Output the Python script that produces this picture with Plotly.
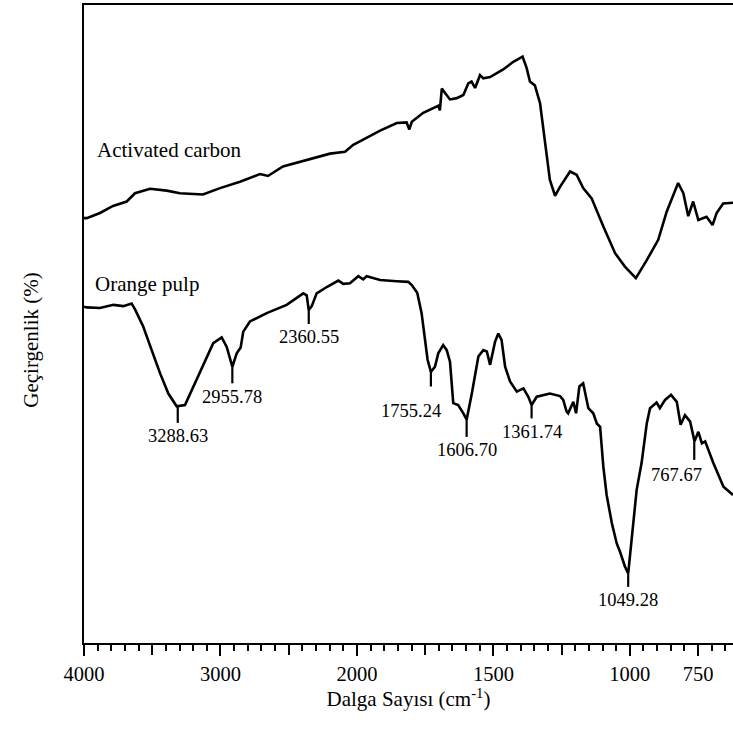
import numpy as np
import plotly.graph_objects as go

# ---- data (wavenumber cm-1, transmittance arbitrary %) ----
ac_w = [4000, 3980, 3883, 3787, 3687, 3626, 3516, 3394, 3297, 3128, 3003, 2857, 2710, 2652, 2542, 2368, 2197, 2087, 2027, 1977,
        1915, 1854, 1818, 1808, 1799, 1757, 1720, 1702, 1696, 1689, 1677, 1659, 1634, 1610, 1592, 1580, 1567, 1549, 1537, 1512,
        1464, 1427, 1393, 1378, 1366, 1348, 1329, 1311, 1293, 1274, 1256, 1219, 1195, 1171, 1140, 1097, 1054, 1018, 978, 938,
        896, 865, 823, 804, 786, 768, 749, 719, 697, 682, 658, 622]
ac_t = [66.6, 66.6, 67.4, 68.5, 69.2, 70.5, 71.2, 70.9, 70.5, 70.3, 71.3, 72.3, 73.5, 73.2, 74.7, 75.7, 76.7, 77.0, 78.1, 78.9,
        80.3, 81.5, 81.6, 80.5, 81.7, 83.1, 83.8, 84.2, 83.5, 86.9, 86.2, 85.2, 85.4, 85.9, 87.7, 88.0, 87.0, 89.0, 88.5, 88.7,
        89.9, 91.1, 91.9, 90.1, 88.0, 87.4, 84.6, 78.8, 72.6, 70.1, 71.5, 73.9, 73.4, 71.3, 69.7, 65.3, 61.1, 59.0, 57.2, 60.0,
        63.2, 67.6, 72.1, 70.5, 66.9, 69.2, 66.3, 66.8, 65.5, 67.4, 68.9, 69.0]

op_w = [4000, 3980, 3883, 3785, 3712, 3651, 3626, 3566, 3504, 3443, 3382, 3321, 3260, 3199, 3126, 3053, 2991, 2954, 2913, 2881,
        2852, 2833, 2784, 2661, 2515, 2393, 2368, 2353, 2331, 2295, 2221, 2136, 2100, 2051, 1995, 1977, 1964, 1915, 1854, 1812,
        1799, 1779, 1763, 1751, 1741, 1729, 1714, 1702, 1684, 1671, 1659, 1647, 1629, 1610, 1598, 1579, 1555, 1537, 1524, 1512,
        1494, 1482, 1470, 1457, 1439, 1414, 1390, 1372, 1360, 1341, 1293, 1256, 1244, 1232, 1226, 1207, 1197, 1185, 1171, 1152,
        1134, 1121, 1109, 1097, 1085, 1066, 1048, 1036, 1018, 1006, 993, 975, 957, 938, 926, 902, 890, 871, 849, 828,
        814, 798, 779, 763, 749, 736, 724, 694, 657, 622]
op_t = [52.7, 52.6, 52.5, 53.0, 52.8, 53.2, 52.3, 49.6, 45.9, 42.3, 39.1, 37.1, 37.3, 40.2, 43.8, 47.0, 47.9, 46.4, 43.3, 45.4,
        46.3, 48.8, 50.4, 51.7, 53.0, 54.8, 54.5, 52.2, 52.8, 54.8, 55.8, 56.8, 56.3, 56.4, 57.5, 57.0, 57.5, 56.9, 56.7, 56.6,
        56.1, 54.9, 51.7, 47.5, 44.4, 42.5, 43.3, 45.4, 46.7, 45.9, 44.1, 37.6, 37.3, 36.0, 35.0, 39.1, 44.9, 45.9, 45.7, 43.6,
        47.2, 48.5, 47.5, 43.3, 41.0, 39.4, 39.9, 38.6, 37.3, 38.6, 39.1, 38.7, 38.1, 36.3, 36.0, 37.8, 36.0, 40.2, 40.7, 36.8,
        36.0, 34.4, 33.9, 27.6, 23.2, 18.8, 15.6, 14.3, 12.0, 10.9, 16.1, 24.0, 28.2, 34.4, 36.8, 37.7, 36.8, 38.1, 38.9, 37.8,
        34.2, 35.7, 34.7, 31.6, 33.1, 31.3, 31.6, 28.2, 24.5, 23.2]

peak_labels = ["3288.63", "2955.78", "2360.55", "1755.24", "1606.70", "1361.74", "1049.28", "767.67"]
peak_pos = [3313, 2913, 2353, 1729, 1598, 1360, 1006, 764]
peak_top = [37.1, 43.3, 52.2, 42.5, 35.0, 37.3, 10.9, 31.6]
peak_bottom = [34.5, 40.7, 50.0, 40.2, 32.3, 35.2, 8.8, 28.7]
label_pos = [3313, 2913, 2353, 1803, 1598, 1360, 1006, 828]
label_t = [32.5, 38.5, 48.0, 36.3, 30.3, 33.1, 6.8, 26.3]

labelled_ticks = [4000, 3000, 2000, 1500, 1000, 750]
labelled_text = ["4000", "3000", "2000", "1500", "1000", "750"]
unlabelled_ticks = [3500, 2500, 1750, 1250]
series_names = ["Activated carbon", "Orange pulp"]


def to_u(w):
    # FTIR axis with 2x expansion below 2000 cm-1
    w = np.asarray(w, dtype=float)
    return np.where(w > 2000, 2000 + (w - 2000) / 2.0, w)


FONT = "Liberation Serif, Times New Roman, serif"
X_RANGE = [3000, 622]

fig = go.Figure()
fig.add_trace(go.Scatter(x=to_u(ac_w), y=ac_t, mode="lines", line=dict(color="black", width=2.6),
                         name=series_names[0], hoverinfo="skip"))
fig.add_trace(go.Scatter(x=to_u(op_w), y=op_t, mode="lines", line=dict(color="black", width=2.6),
                         name=series_names[1], hoverinfo="skip"))

# peak drop lines
lx, ly = [], []
for p, a, b in zip(peak_pos, peak_top, peak_bottom):
    u = float(to_u(p))
    lx += [u, u, None]
    ly += [a, b, None]
fig.add_trace(go.Scatter(x=lx, y=ly, mode="lines", line=dict(color="black", width=2.2), hoverinfo="skip"))

# invisible trace to hold the secondary (unlabelled major tick) axis
fig.add_trace(go.Scatter(x=[X_RANGE[0]], y=[None], xaxis="x2", mode="lines", hoverinfo="skip", showlegend=False))

for txt, p, t in zip(peak_labels, label_pos, label_t):
    fig.add_annotation(x=float(to_u(p)), y=t, xref="x", yref="y", text=txt, showarrow=False,
                       xanchor="center", yanchor="middle", font=dict(family=FONT, size=18.5, color="black"))

fig.add_annotation(x=float(to_u(3919)), y=77.3, xref="x", yref="y", text=series_names[0], showarrow=False,
                   xanchor="left", yanchor="middle", font=dict(family=FONT, size=21, color="black"))
fig.add_annotation(x=float(to_u(3936)), y=56.3, xref="x", yref="y", text=series_names[1], showarrow=False,
                   xanchor="left", yanchor="middle", font=dict(family=FONT, size=21, color="black"))

# y title
fig.add_annotation(x=-0.082, y=0.475, xref="paper", yref="paper", text="Geçirgenlik (%)", showarrow=False,
                   textangle=-90, xanchor="center", yanchor="middle", font=dict(family=FONT, size=21, color="black"))

minor_u = list(np.arange(3000, 620, -50))

fig.update_layout(
    width=733, height=731,
    margin=dict(l=84, r=0, t=5, b=88),
    paper_bgcolor="white", plot_bgcolor="white",
    showlegend=False, hovermode=False,
    xaxis=dict(
        range=X_RANGE,
        tickmode="array", tickvals=list(to_u(labelled_ticks)), ticktext=labelled_text,
        ticks="outside", ticklen=11, tickwidth=2, tickcolor="black",
        showline=True, linewidth=2, linecolor="black", mirror=True,
        showgrid=False, zeroline=False,
        tickfont=dict(family=FONT, size=20.5, color="black"),
        minor=dict(tickmode="array", tickvals=minor_u, ticks="outside", ticklen=6,
                   tickwidth=2, tickcolor="black", showgrid=False),
        title=dict(text="Dalga Sayısı (cm<sup>-1</sup>)", font=dict(family=FONT, size=21, color="black"),
                   standoff=0),
    ),
    xaxis2=dict(
        range=X_RANGE, overlaying="x", anchor="y", side="bottom",
        tickmode="array", tickvals=list(to_u(unlabelled_ticks)),
        ticks="outside", ticklen=11, tickwidth=2, tickcolor="black",
        showticklabels=False, showline=False, showgrid=False, zeroline=False,
    ),
    yaxis=dict(
        range=[0, 100], showline=True, linewidth=2, linecolor="black",
        showticklabels=False, ticks="", showgrid=False, zeroline=False,
    ),
)

fig.write_html("out.html", config={"displayModeBar": False})
